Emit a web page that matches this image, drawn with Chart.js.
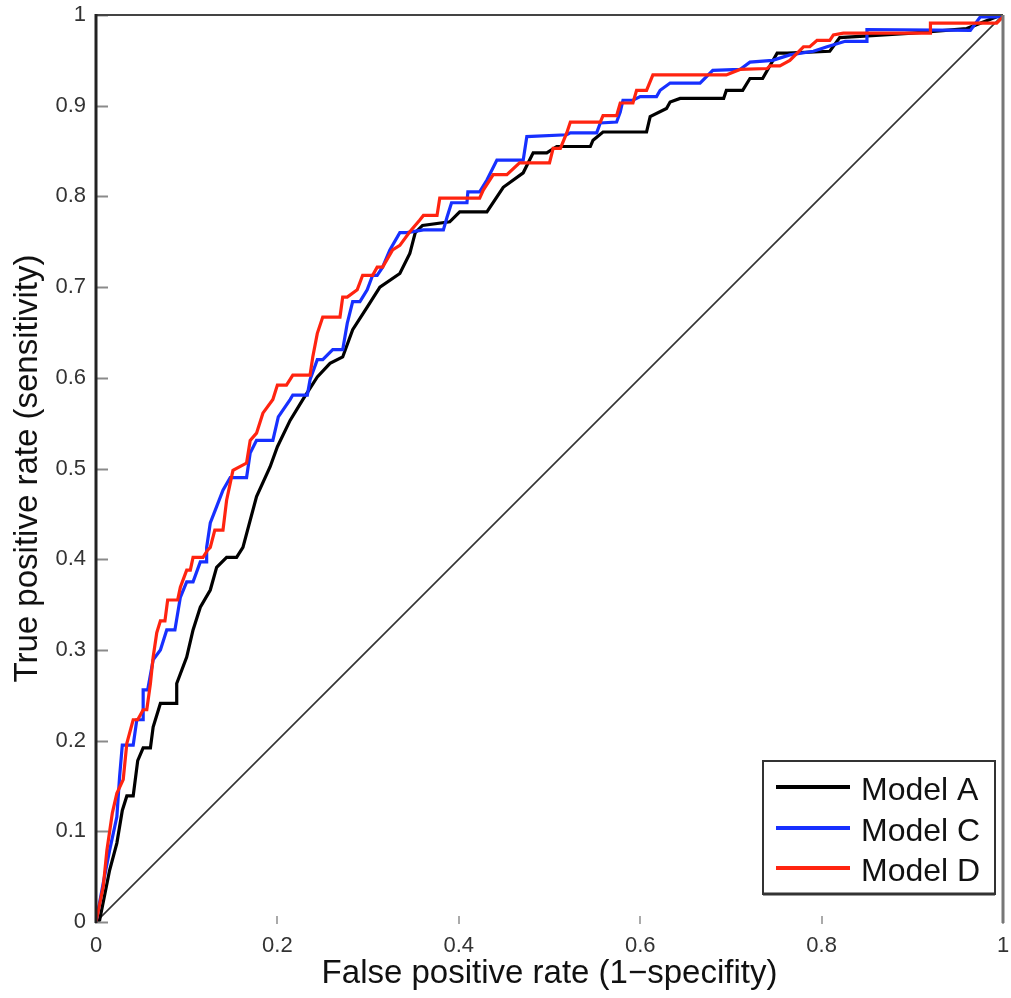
<!DOCTYPE html>
<html>
<head>
<meta charset="utf-8">
<script src="https://cdn.jsdelivr.net/npm/chart.js@4.4.1/dist/chart.umd.min.js"></script>
<style>
  html, body { margin: 0; padding: 0; background: #fff; }
  canvas { display: block; }
</style>
</head>
<body>
<canvas id="roc" width="1011" height="998"></canvas>
<script>
// === DATA ===
const seriesNames = ['Model A', 'Model C', 'Model D'];

const fprA = [0, 0.004, 0.015, 0.023, 0.029, 0.034, 0.041, 0.046, 0.052, 0.060, 0.063, 0.071, 0.089, 0.089, 0.100, 0.107, 0.115, 0.126, 0.133, 0.144, 0.155, 0.162, 0.177, 0.192, 0.200, 0.214, 0.228, 0.244, 0.258, 0.272, 0.283, 0.299, 0.313, 0.335, 0.346, 0.352, 0.360, 0.390, 0.401, 0.431, 0.449, 0.471, 0.482, 0.497, 0.508, 0.545, 0.548, 0.559, 0.607, 0.611, 0.629, 0.633, 0.644, 0.692, 0.695, 0.713, 0.721, 0.735, 0.743, 0.751, 0.762, 0.809, 0.820, 0.900, 0.960, 0.993, 1];
const tprA = [0, 0.002, 0.057, 0.087, 0.123, 0.139, 0.139, 0.178, 0.192, 0.192, 0.215, 0.241, 0.241, 0.263, 0.292, 0.322, 0.347, 0.366, 0.391, 0.402, 0.402, 0.413, 0.469, 0.502, 0.524, 0.553, 0.576, 0.601, 0.616, 0.623, 0.653, 0.678, 0.700, 0.715, 0.737, 0.760, 0.768, 0.772, 0.783, 0.783, 0.810, 0.826, 0.848, 0.848, 0.855, 0.855, 0.862, 0.871, 0.871, 0.888, 0.897, 0.904, 0.908, 0.908, 0.917, 0.917, 0.930, 0.930, 0.944, 0.958, 0.958, 0.960, 0.975, 0.980, 0.985, 0.998, 1];

const fprC = [0, 0.008, 0.015, 0.023, 0.026, 0.029, 0.041, 0.045, 0.052, 0.052, 0.057, 0.063, 0.071, 0.078, 0.087, 0.093, 0.100, 0.107, 0.115, 0.122, 0.122, 0.126, 0.133, 0.140, 0.148, 0.166, 0.170, 0.177, 0.195, 0.201, 0.214, 0.217, 0.233, 0.236, 0.244, 0.250, 0.261, 0.272, 0.277, 0.283, 0.291, 0.299, 0.305, 0.310, 0.316, 0.324, 0.335, 0.343, 0.361, 0.383, 0.387, 0.392, 0.409, 0.410, 0.423, 0.431, 0.442, 0.471, 0.475, 0.519, 0.523, 0.552, 0.556, 0.574, 0.578, 0.581, 0.592, 0.600, 0.618, 0.622, 0.633, 0.666, 0.680, 0.710, 0.721, 0.746, 0.765, 0.791, 0.806, 0.826, 0.850, 0.850, 0.964, 0.975, 0.993, 1];
const tprC = [0, 0.043, 0.079, 0.116, 0.160, 0.195, 0.195, 0.223, 0.223, 0.256, 0.256, 0.289, 0.300, 0.322, 0.322, 0.358, 0.375, 0.375, 0.397, 0.397, 0.413, 0.440, 0.458, 0.476, 0.490, 0.490, 0.517, 0.531, 0.531, 0.557, 0.576, 0.581, 0.581, 0.598, 0.620, 0.620, 0.631, 0.631, 0.660, 0.684, 0.684, 0.697, 0.713, 0.713, 0.722, 0.741, 0.760, 0.760, 0.763, 0.763, 0.777, 0.793, 0.793, 0.805, 0.805, 0.818, 0.840, 0.840, 0.866, 0.868, 0.870, 0.870, 0.881, 0.882, 0.893, 0.906, 0.906, 0.910, 0.910, 0.917, 0.925, 0.925, 0.939, 0.940, 0.948, 0.950, 0.956, 0.960, 0.965, 0.971, 0.971, 0.984, 0.983, 0.998, 0.998, 1];

const fprD = [0, 0.008, 0.012, 0.018, 0.023, 0.030, 0.034, 0.041, 0.046, 0.052, 0.056, 0.060, 0.063, 0.067, 0.071, 0.076, 0.079, 0.090, 0.093, 0.100, 0.104, 0.107, 0.118, 0.123, 0.126, 0.131, 0.140, 0.144, 0.151, 0.166, 0.170, 0.177, 0.184, 0.195, 0.200, 0.210, 0.217, 0.236, 0.239, 0.244, 0.250, 0.269, 0.272, 0.277, 0.288, 0.294, 0.305, 0.310, 0.316, 0.327, 0.335, 0.346, 0.357, 0.361, 0.376, 0.379, 0.423, 0.427, 0.438, 0.453, 0.467, 0.500, 0.504, 0.512, 0.519, 0.523, 0.556, 0.559, 0.574, 0.578, 0.592, 0.596, 0.607, 0.614, 0.695, 0.710, 0.740, 0.743, 0.754, 0.765, 0.780, 0.787, 0.795, 0.809, 0.813, 0.824, 0.920, 0.920, 0.993, 1];
const tprD = [0, 0.039, 0.079, 0.120, 0.142, 0.157, 0.197, 0.223, 0.223, 0.234, 0.234, 0.263, 0.292, 0.319, 0.332, 0.332, 0.355, 0.355, 0.369, 0.388, 0.388, 0.402, 0.402, 0.410, 0.413, 0.432, 0.432, 0.465, 0.498, 0.506, 0.531, 0.539, 0.561, 0.576, 0.592, 0.592, 0.603, 0.603, 0.623, 0.649, 0.667, 0.667, 0.689, 0.689, 0.697, 0.713, 0.713, 0.722, 0.722, 0.741, 0.746, 0.761, 0.774, 0.779, 0.779, 0.798, 0.798, 0.807, 0.824, 0.824, 0.837, 0.837, 0.853, 0.853, 0.870, 0.882, 0.882, 0.889, 0.889, 0.903, 0.903, 0.917, 0.917, 0.934, 0.934, 0.940, 0.941, 0.944, 0.944, 0.950, 0.965, 0.965, 0.972, 0.972, 0.978, 0.980, 0.980, 0.991, 0.991, 0.998, 1];

// chance line
const diagX = [0, 1];
const diagY = [0, 1];

const xTicks = [0, 0.2, 0.4, 0.6, 0.8, 1];
const xTickLabels = ['0', '0.2', '0.4', '0.6', '0.8', '1'];
const yTicks = [0, 0.1, 0.2, 0.3, 0.4, 0.5, 0.6, 0.7, 0.8, 0.9, 1];
const yTickLabels = ['0', '0.1', '0.2', '0.3', '0.4', '0.5', '0.6', '0.7', '0.8', '0.9', '1'];

const pts = (xs, ys) => xs.map((x, i) => ({ x, y: ys[i] }));

const FONT = '"Liberation Sans", Arial, sans-serif';

// keep label overhang from shrinking the plot box
function noOverhang(s) {
  s.paddingLeft = 0; s.paddingRight = 0; s.paddingTop = 0; s.paddingBottom = 0;
}

// === inward tick marks, frame and legend box ===
const framePlugin = {
  id: 'frame',
  afterDraw(chart) {
    const { ctx, chartArea: a, scales } = chart;
    ctx.save();
    // tick marks
    ctx.strokeStyle = '#8a8a8a';
    ctx.lineWidth = 2;
    yTicks.forEach(v => {
      const y = Math.round(scales.y.getPixelForValue(v)) + 0.5;
      ctx.beginPath(); ctx.moveTo(a.left, y); ctx.lineTo(a.left + 12, y); ctx.stroke();
    });
    ctx.strokeStyle = '#aaa';
    xTicks.forEach(v => {
      const x = Math.round(scales.x.getPixelForValue(v));
      ctx.beginPath(); ctx.moveTo(x, a.bottom + 2); ctx.lineTo(x, a.bottom - 6); ctx.stroke();
    });
    // frame (no bottom line in the original)
    ctx.strokeStyle = '#444';
    ctx.lineWidth = 2;
    ctx.beginPath(); ctx.moveTo(a.left, a.top); ctx.lineTo(a.right, a.top); ctx.stroke();
    ctx.strokeStyle = '#777';
    ctx.lineWidth = 3;
    ctx.beginPath(); ctx.moveTo(a.right, a.top); ctx.lineTo(a.right, a.bottom + 1); ctx.stroke();
    ctx.strokeStyle = '#222';
    ctx.beginPath(); ctx.moveTo(a.left, a.top - 1); ctx.lineTo(a.left, a.bottom + 1); ctx.stroke();

    // legend
    const bx = a.right - 240, by = a.bottom - 161, bw = 232, bh = 133;
    ctx.fillStyle = '#fff';
    ctx.fillRect(bx, by, bw, bh);
    ctx.strokeStyle = '#333';
    ctx.lineWidth = 2;
    ctx.strokeRect(bx, by, bw, bh);
    ctx.lineWidth = 3;
    ctx.beginPath(); ctx.moveTo(bx, by + bh); ctx.lineTo(bx + bw, by + bh); ctx.stroke();
    ctx.font = '32px ' + FONT;
    ctx.textBaseline = 'middle';
    ctx.textAlign = 'left';
    const rowY = [26, 67, 107];
    chart.data.datasets.filter(d => d.label).forEach((d, i) => {
      const y = by + rowY[i];
      ctx.strokeStyle = d.borderColor;
      ctx.lineWidth = 4;
      ctx.beginPath(); ctx.moveTo(bx + 13, y); ctx.lineTo(bx + 87, y); ctx.stroke();
      ctx.fillStyle = '#111';
      ctx.fillText(d.label, bx + 98, y + 4);
    });
    ctx.restore();
  }
};

const chart = new Chart(document.getElementById('roc'), {
  type: 'line',
  data: {
    datasets: [
      { label: seriesNames[0], data: pts(fprA, tprA), borderColor: '#000000', borderWidth: 3.2, order: 2 },
      { label: seriesNames[1], data: pts(fprC, tprC), borderColor: '#1730ff', borderWidth: 3.2, order: 1 },
      { label: seriesNames[2], data: pts(fprD, tprD), borderColor: '#ff2410', borderWidth: 3.2, order: 0 },
      { label: '', data: pts(diagX, diagY), borderColor: '#333333', borderWidth: 1.6, order: 3 }
    ]
  },
  options: {
    responsive: false,
    animation: false,
    devicePixelRatio: 1,
    layout: { padding: { left: 0, top: 15, right: 8, bottom: 0 } },
    elements: { point: { radius: 0 }, line: { tension: 0, borderJoinStyle: 'miter' } },
    plugins: { legend: { display: false }, tooltip: { enabled: false } },
    scales: {
      x: {
        type: 'linear', min: 0, max: 1,
        afterFit: s => { s.height = 76; noOverhang(s); },
        afterBuildTicks: s => { s.ticks = xTicks.map(v => ({ value: v })); },
        grid: { display: false, drawTicks: false },
        border: { display: false },
        ticks: {
          autoSkip: false, maxRotation: 0, padding: 11, color: '#333',
          font: { family: FONT, size: 22 },
          callback: (v, i) => xTickLabels[i]
        },
        title: {
          display: true, text: 'False positive rate (1\u2212specifity)', color: '#111',
          font: { family: FONT, size: 33 }, padding: { top: 0, bottom: 4 }
        }
      },
      y: {
        type: 'linear', min: 0, max: 1,
        afterFit: s => { s.width = 96; noOverhang(s); },
        afterBuildTicks: s => { s.ticks = yTicks.map(v => ({ value: v })); },
        grid: { display: false, drawTicks: false },
        border: { display: false },
        ticks: {
          autoSkip: false, padding: 10, color: '#333',
          font: { family: FONT, size: 22 },
          callback: (v, i) => yTickLabels[i]
        },
        title: {
          display: true, text: 'True positive rate (sensitivity)', color: '#111',
          font: { family: FONT, size: 33 }, padding: { top: 8, bottom: 0 }
        }
      }
    }
  },
  plugins: [framePlugin]
});
</script>
</body>
</html>
